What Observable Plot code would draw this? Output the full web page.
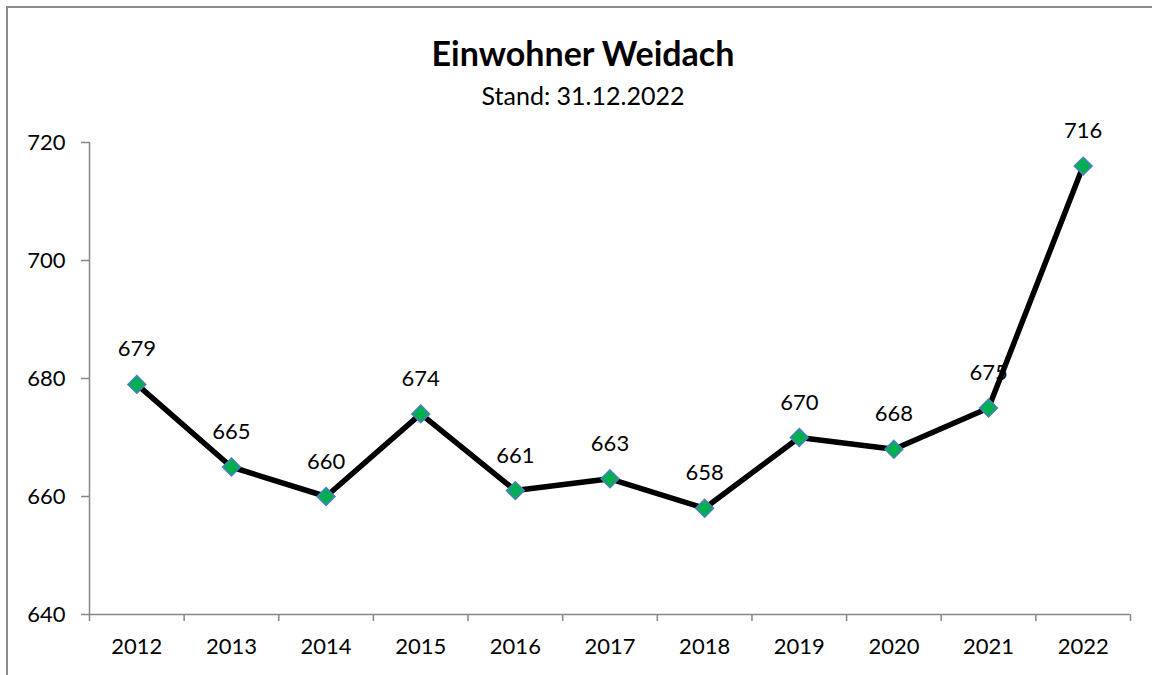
<!DOCTYPE html>
<html>
<head>
<meta charset="utf-8">
<script src="https://cdn.jsdelivr.net/npm/d3@7"></script>
<script src="https://cdn.jsdelivr.net/npm/@observablehq/plot@0.6"></script>
<style>
  html, body { margin: 0; padding: 0; background: #fff; }
  body { width: 1152px; height: 675px; overflow: hidden; position: relative; font-family: Lato, "Open Sans", sans-serif; }
  #frame { position: absolute; left: 6px; top: 6px; width: 1160px; height: 700px; border-left: 2px solid #8c8c8c; border-top: 2px solid #8c8c8c; box-sizing: border-box; }
  #title { position: absolute; left: 7px; width: 1152px; top: 33px; text-align: center; font-weight: bold; font-size: 34px; color: #000; line-height: 40px; }
  #subtitle { position: absolute; left: 7px; width: 1152px; top: 80px; text-align: center; font-size: 25px; color: #000; line-height: 30px; }
  #chart { position: absolute; left: 0; top: 110px; }
</style>
</head>
<body>
<div id="frame"></div>
<div id="title">Einwohner Weidach</div>
<div id="subtitle">Stand: 31.12.2022</div>
<div id="chart"></div>
<script>
const years = [2012, 2013, 2014, 2015, 2016, 2017, 2018, 2019, 2020, 2021, 2022];
const population = [679, 665, 660, 674, 661, 663, 658, 670, 668, 675, 716];
const yTicks = [640, 660, 680, 700, 720];

const data = years.map((year, i) => ({year, value: population[i]}));
const xDomain = [years[0] - 0.5, years[years.length - 1] + 0.5];
const boundaries = years.map(y => y - 0.5).concat([years[years.length - 1] + 0.5]);

const axisColor = "#868686";
const font = "Lato, 'Open Sans', sans-serif";

const plot = Plot.plot({
  width: 1152,
  height: 565,
  marginLeft: 89,
  marginRight: 22,
  marginTop: 32,
  marginBottom: 61,
  style: {fontFamily: font, fontSize: "22px", color: "#000", background: "transparent", overflow: "visible"},
  x: {type: "linear", domain: xDomain},
  y: {domain: [640, 720]},
  marks: [
    Plot.axisY({ticks: yTicks, tickSize: 8, tickPadding: 16, stroke: axisColor, strokeWidth: 1.5, label: null, tickFormat: d => String(d), fill: "#000", fontSize: 22}),
    Plot.axisX({ticks: boundaries, tickSize: 7, tickFormat: () => "", stroke: axisColor, strokeWidth: 1.5, label: null}),
    Plot.axisX({ticks: years, tickSize: 0, tickPadding: 24, tickFormat: d => String(d), label: null, fill: "#000", fontSize: 22}),
    Plot.ruleY([640], {stroke: axisColor, strokeWidth: 1.5}),
    Plot.ruleX([xDomain[0]], {stroke: axisColor, strokeWidth: 1.5}),
    Plot.line(data, {x: "year", y: "value", stroke: "#000", strokeWidth: 5.5, strokeLinejoin: "miter"}),
    Plot.dot(data, {x: "year", y: "value", symbol: "diamond2", r: 8, fill: "#00b050", stroke: "#4a7ebb", strokeWidth: 1.5}),
    Plot.text(data, {x: "year", y: "value", text: d => String(d.value), dy: -35, fill: "#000", fontSize: 22})
  ]
});
document.getElementById("chart").appendChild(plot);
</script>
</body>
</html>
